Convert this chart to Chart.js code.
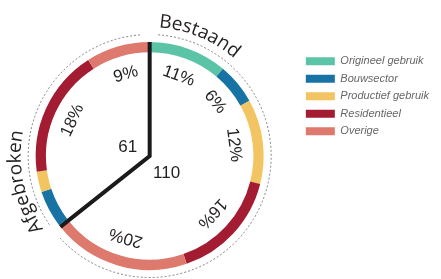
<!DOCTYPE html>
<html>
<head>
<meta charset="utf-8">
<script src="https://cdn.jsdelivr.net/npm/chart.js@4"></script>
<style>
  html, body { margin: 0; padding: 0; background: #fff; }
  canvas { display: block; }
</style>
</head>
<body>
<canvas id="chart" width="441" height="279"></canvas>
<script>
// categorieën, groepen en waarden (aantallen, totaal 171)
const categories = ['Origineel gebruik', 'Bouwsector', 'Productief gebruik', 'Residentieel', 'Overige'];
const groups = ['Bestaand', 'Afgebroken'];
const bestaand = [19, 10, 20.5, 27, 33.5];
const afgebroken = [0.5, 9, 5, 31, 15.5];
const colors = ['#5cc4a6', '#1673a3', '#f3c462', '#a41c31', '#dd7a6d'];

const values = bestaand.concat(afgebroken);
const groupTotals = [bestaand, afgebroken].map(g => g.reduce((a, b) => a + b, 0));

// tekst langs een cirkelboog schrijven
function arcText(ctx, text, cx, cy, r, startAngle) {
    let a = startAngle;
    for (const ch of text) {
        const w = ctx.measureText(ch).width;
        const m = a + w / 2 / r;
        ctx.save();
        ctx.translate(cx + r * Math.cos(m), cy + r * Math.sin(m));
        ctx.rotate(m + Math.PI / 2);
        ctx.fillText(ch, 0, 0);
        ctx.restore();
        a += w / r;
    }
}

const overlay = {
    id: 'overlay',
    afterDatasetsDraw(chart) {
        const ctx = chart.ctx;
        const arcs = chart.getDatasetMeta(0).data;
        const cx = arcs[0].x, cy = arcs[0].y, R = arcs[0].outerRadius;
        const total = values.reduce((a, b) => a + b, 0);
        const a0 = arcs[0].startAngle;
        const a1 = arcs[bestaand.length].startAngle;
        const deg = Math.PI / 180;
        ctx.save();

        // stippellijn rond de ring
        ctx.strokeStyle = '#666';
        ctx.lineWidth = 0.8;
        ctx.setLineDash([2, 2]);
        ctx.beginPath();
        ctx.arc(cx, cy, R + 7.5, a0 + 4 * deg, a1 - 4 * deg);
        ctx.stroke();
        ctx.beginPath();
        ctx.arc(cx, cy, R + 7.5, a1 + 4 * deg, a0 + 2 * Math.PI - 4 * deg);
        ctx.stroke();
        ctx.setLineDash([]);

        // zwarte scheidingslijnen
        ctx.strokeStyle = '#1a1a1a';
        ctx.lineWidth = 4;
        ctx.lineJoin = 'miter';
        ctx.beginPath();
        ctx.moveTo(cx + R * Math.cos(a0), cy + R * Math.sin(a0));
        ctx.lineTo(cx, cy);
        ctx.lineTo(cx + R * Math.cos(a1), cy + R * Math.sin(a1));
        ctx.stroke();

        // percentages
        ctx.fillStyle = '#231f20';
        ctx.font = '17px "Liberation Sans"';
        ctx.textAlign = 'center';
        ctx.textBaseline = 'middle';
        arcs.forEach((arc, i) => {
            const pct = values[i] / total * 100;
            if (pct < 5.5) return;
            const m = (arc.startAngle + arc.endAngle) / 2;
            const r = R * 0.745;
            ctx.save();
            ctx.translate(cx + r * Math.cos(m), cy + r * Math.sin(m));
            ctx.rotate(m + Math.PI / 2);
            ctx.fillText(Math.round(pct) + '%', 0, 0);
            ctx.restore();
        });

        // totalen per groep
        ctx.fillText(String(groupTotals[0]), cx + 17, cy + 17);
        ctx.fillText(String(groupTotals[1]), cx - 22, cy - 9);

        // groepsnamen langs de cirkel
        ctx.font = '19px "Open Sans"';
        ctx.textBaseline = 'alphabetic';
        arcText(ctx, groups[0], cx, cy, R + 15, a0 + 4 * deg);
        arcText(ctx, groups[1], cx, cy, R + 15, a1 + 4 * deg);
        ctx.restore();
    }
};

const ctx = document.getElementById('chart').getContext('2d');
const chart = new Chart(ctx, {
    type: 'doughnut',
    data: {
        labels: values.map((v, i) => categories[i % categories.length]),
        datasets: [{
            data: values,
            backgroundColor: values.map((v, i) => colors[i % colors.length]),
            borderWidth: 0
        }]
    },
    options: {
        responsive: false,
        animation: false,
        devicePixelRatio: 1,
        cutout: '91%',
        layout: { padding: { top: 42, bottom: 9, left: 0, right: 2 } },
        plugins: {
            tooltip: { enabled: false },
            legend: {
                position: 'right',
                align: 'start',
                title: { display: true, text: '', font: { size: 1 }, padding: { top: 3, bottom: 3 } },
                labels: {
                    boxWidth: 29,
                    boxHeight: 8,
                    padding: 6.5,
                    color: '#444',
                    font: { family: 'Liberation Sans', size: 11, style: 'italic' },
                    generateLabels: () => categories.map((c, i) => ({
                        text: c, fillStyle: colors[i], strokeStyle: colors[i],
                        lineWidth: 0, hidden: false, index: i
                    }))
                }
            }
        }
    },
    plugins: [overlay]
});
</script>
</body>
</html>
